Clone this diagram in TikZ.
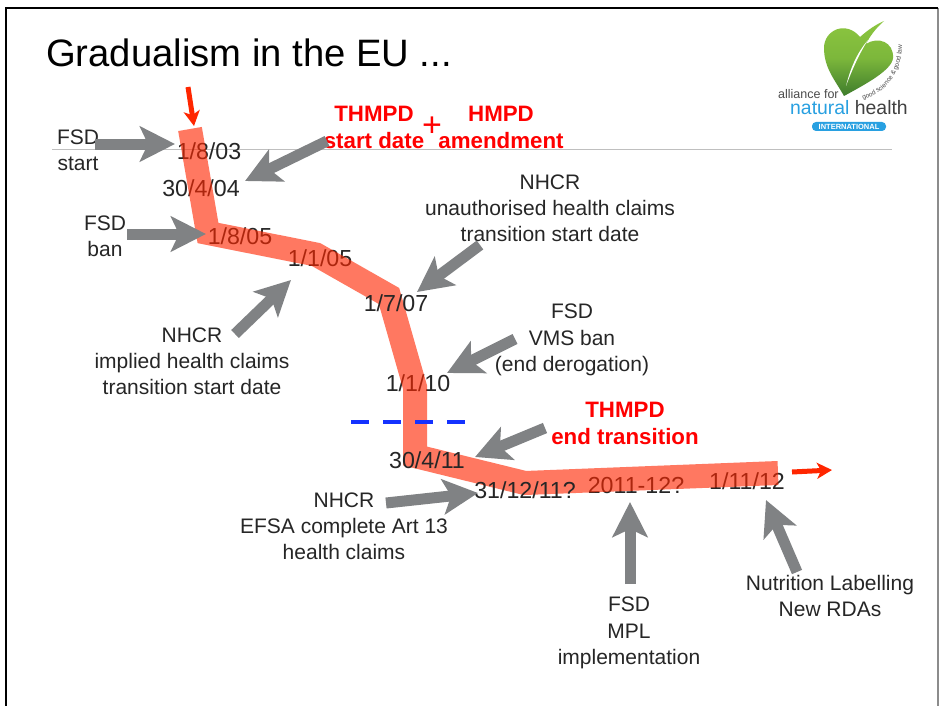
\documentclass[tikz,border=0pt]{standalone}
\usepackage{fontspec}
\setmainfont{Liberation Sans}
\usetikzlibrary{arrows.meta,decorations.text}
\definecolor{arrowgray}{RGB}{128,130,132}
\definecolor{tipred}{RGB}{255,38,0}
\definecolor{dashblue}{RGB}{20,50,255}
\definecolor{leafa}{RGB}{140,198,63}
\definecolor{leafb}{RGB}{62,124,44}
\definecolor{ribbon}{RGB}{40,160,225}
\tikzset{
 x=1pt,y=-1pt,
 lab/.style={font=\fontsize{21}{26.2}\selectfont,text=black!85,align=center,inner sep=0pt},
 redlab/.style={font=\fontsize{22.3}{27}\selectfont\bfseries,text=red,align=center,inner sep=0pt},
 dat/.style={font=\fontsize{23.2}{26}\selectfont,text=black!85,inner sep=0pt},
 grayarrow/.style={draw=arrowgray,line width=11pt,-{Stealth[length=35pt,width=35pt,inset=8pt]}},
 redarrow/.style={draw=tipred,line width=5pt,-{Stealth[length=15pt,width=16pt,inset=4pt]}},
 band/.style={draw=tipred,line width=24pt,opacity=.62,line join=miter},
}
\begin{document}
\begin{tikzpicture}
\useasboundingbox (0,0) rectangle (939,706);
\fill[white] (0,0) rectangle (939,706);
\draw[black!45,line width=1.5pt] (938,8) -- (938,720);
\draw[black,line width=2pt] (6,720) -- (6,8) -- (938,8);
\draw[black!25,line width=1pt] (52,149) -- (892,149);
\node[font=\fontsize{38.2}{44}\selectfont,anchor=west,inner sep=0pt] (title) at (46,53) {Gradualism in the EU ...};
% dates beneath the band
\node[dat] (d1) at (209,151) {1/8/03};
\node[dat] (d2) at (201,188) {30/4/04};
\node[dat] (d3) at (240,236) {1/8/05};
\node[dat] (d4) at (320,258) {1/1/05};
\node[dat] (d6) at (418,383) {1/1/10};
\node[dat] (d9) at (636,486) {2011-12?};
\node[dat] (d10) at (747,481) {1/11/12};
% band
\coordinate (b0) at (190,129);
\coordinate (b1) at (208,233);
\coordinate (b2) at (316,254.5);
\coordinate (b3) at (389,296);
\coordinate (b4) at (415,387);
\coordinate (b5) at (415,456);
\coordinate (b6) at (525,483);
\coordinate (b7) at (778,473);
\draw[band] (b0) -- (b1) -- (b2) -- (b3) -- (b4) -- (b5) -- (b6) -- (b7);
\coordinate (dl) at (351,422);
\coordinate (dr) at (466,422);
\draw[dashblue,line width=4.5pt,dash pattern=on 18pt off 14pt] (dl) -- (dr);
\node[dat] (d5) at (396,303) {1/7/07};
\node[dat] (d7) at (427,460) {30/4/11};
\node[dat] (d8) at (525,490) {31/12/11?};
% labels
\node[lab] (fsdstart) at (78,150) {FSD\\start};
\node[lab] (fsdban) at (105,236) {FSD\\ban};
\node[redlab] (thmpd) at (374,127) {THMPD\\start date};
\node[redlab] (hmpd) at (501,127) {HMPD\\amendment};
\node[font=\fontsize{34}{34}\selectfont,text=red,inner sep=0pt] (plus) at (432,127) {+};
\node[lab] (nhcr1) at (550,208) {NHCR\\unauthorised health claims\\transition start date};
\node[lab] (nhcr2) at (192,361) {NHCR\\implied health claims\\transition start date};
\node[lab] (fsdvms) at (572,340) {FSD\\VMS ban\\(end derogation)};
\node[redlab] (thend) at (625,423) {THMPD\\end transition};
\node[lab] (nhcr3) at (344,526) {NHCR\\EFSA complete Art 13\\health claims};
\node[lab] (mpl) at (629,633) {FSD\\MPL\\implementation};
\node[lab] (nutr) at (830,596) {Nutrition Labelling\\New RDAs};
% connectors
\coordinate (a1s) at (95,144); \coordinate (a1e) at (175,144);
\coordinate (a2s) at (327,141); \coordinate (a2e) at (245,181);
\coordinate (a3s) at (127,234); \coordinate (a3e) at (206,234);
\coordinate (a4s) at (235,334); \coordinate (a4e) at (291,280);
\coordinate (a5s) at (480,245); \coordinate (a5e) at (417,292);
\coordinate (a6s) at (515,339); \coordinate (a6e) at (447,373);
\coordinate (a7s) at (545,428); \coordinate (a7e) at (475,457);
\coordinate (a8s) at (386,503); \coordinate (a8e) at (478,493);
\coordinate (a9s) at (630,584); \coordinate (a9e) at (630,502);
\coordinate (a10s) at (797,572); \coordinate (a10e) at (766,500);
\foreach \n in {1,...,10} {\draw[grayarrow] (a\n s) -- (a\n e);}
\coordinate (r1s) at (188,87); \coordinate (r1e) at (194,126);
\coordinate (r2s) at (792,472); \coordinate (r2e) at (832,470);
\draw[redarrow] (r1s) -- (r1e);
\draw[redarrow] (r2s) -- (r2e);
% logo
\shade[top color=leafa,bottom color=leafb,middle color=leafa!80!leafb]
 (844,96) .. controls (835,80) and (824,68) .. (824,48)
 .. controls (824,30) and (846,20) .. (860,37)
 .. controls (868,30) and (875,25) .. (884,21)
 .. controls (876,28) and (870,36) .. (866,44)
 .. controls (878,36) and (894,42) .. (893,58)
 .. controls (892,70) and (866,84) .. (844,96) -- cycle;
\fill[white] (846,86) .. controls (850,70) and (856,54) .. (868,40) .. controls (859,54) and (852,70) .. (846,86) -- cycle;
\path[decorate,decoration={text along path,text align=center,
 text={|\fontsize{6.5}{7}\selectfont\color{black!70}|good science {\&} good law}}]
 (863,100) .. controls (885,93) and (902,74) .. (902,45);
\node[font=\fontsize{12.5}{14}\selectfont,text=black!70,anchor=west,inner sep=0pt] (alliance) at (778,94) {alliance for};
\node[font=\fontsize{19.4}{24}\selectfont,anchor=west,inner sep=0pt] (natural) at (790,108) {\textcolor{ribbon}{natural} \textcolor{black!75}{health}};
\node[fill=ribbon,rounded corners=4pt,text=white,font=\fontsize{7.5}{8}\selectfont\bfseries,minimum width=74pt,minimum height=9pt,inner sep=0pt] (intl) at (849,126.5) {INTERNATIONAL};
\end{tikzpicture}
\end{document}
